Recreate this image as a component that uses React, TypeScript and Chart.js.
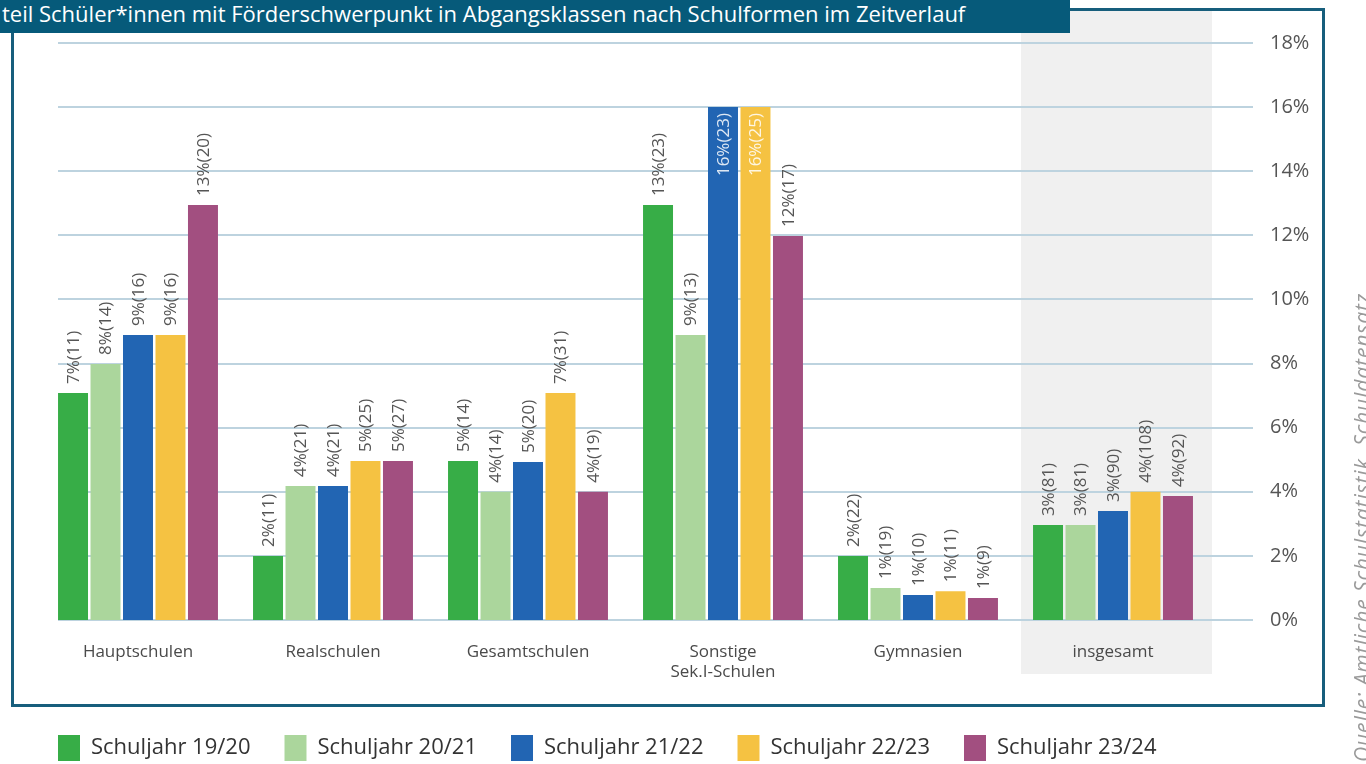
import React, { useEffect, useRef } from 'react';
import { Chart, registerables } from 'chart.js';

Chart.register(...registerables);

// ---------- data ----------
const categories: (string | string[])[] = [
  'Hauptschulen',
  'Realschulen',
  'Gesamtschulen',
  ['Sonstige', 'Sek.I-Schulen'],
  'Gymnasien',
  'insgesamt',
];

const seriesNames = ['Schuljahr 19/20', 'Schuljahr 20/21', 'Schuljahr 21/22', 'Schuljahr 22/23', 'Schuljahr 23/24'];
const seriesColors = ['#37ad47', '#abd69c', '#2265b3', '#f5c242', '#a24f80'];

// bar heights in percent
const sj1920 = [7.08, 2.0, 4.96, 12.95, 2.0, 2.96];
const sj2021 = [7.99, 4.18, 4.0, 8.89, 1.0, 2.96];
const sj2122 = [8.89, 4.18, 4.93, 16.0, 0.78, 3.4];
const sj2223 = [8.89, 4.96, 7.08, 16.0, 0.9, 4.0];
const sj2324 = [12.95, 4.96, 4.0, 11.98, 0.69, 3.87];

// printed percentages
const pct1920 = [7, 2, 5, 13, 2, 3];
const pct2021 = [8, 4, 4, 9, 1, 3];
const pct2122 = [9, 4, 5, 16, 1, 3];
const pct2223 = [9, 5, 7, 16, 1, 4];
const pct2324 = [13, 5, 4, 12, 1, 4];

// printed counts
const n1920 = [11, 11, 14, 23, 22, 81];
const n2021 = [14, 21, 14, 13, 19, 81];
const n2122 = [16, 21, 20, 23, 10, 90];
const n2223 = [16, 25, 31, 25, 11, 108];
const n2324 = [20, 27, 19, 17, 9, 92];

const yMin = 0;
const yMax = 18;
const yStep = 2;

const titleText = 'teil Schüler*innen mit Förderschwerpunkt in Abgangsklassen nach Schulformen im Zeitverlauf';
const sourceText = 'Quelle: Amtliche Schulstatistik, Schuldatensatz';

const seriesValues = [sj1920, sj2021, sj2122, sj2223, sj2324];
const seriesPct = [pct1920, pct2021, pct2122, pct2223, pct2324];
const seriesN = [n1920, n2021, n2122, n2223, n2324];

const FONT = "'Open Sans', 'Noto Sans', sans-serif";

const backgroundPlugin = {
  id: 'bgPlugin',
  beforeDraw(chart: any) {
    const { ctx, chartArea, scales } = chart;
    const xs = scales.x;
    const ys = scales.y;
    ctx.save();
    // grey band behind "insgesamt"
    const cx = xs.getPixelForValue(categories.length - 1);
    ctx.fillStyle = '#f0f0f0';
    ctx.fillRect(cx - 92, 11, 191, 663);
    // horizontal grid lines
    ctx.strokeStyle = '#bdd3df';
    ctx.lineWidth = 2;
    for (let v = yMin; v <= yMax; v += yStep) {
      const py = Math.round(ys.getPixelForValue(v));
      ctx.beginPath();
      ctx.moveTo(chartArea.left + 17.5, py);
      ctx.lineTo(chartArea.right + 42.5, py);
      ctx.stroke();
    }
    ctx.restore();
  },
};

const labelPlugin = {
  id: 'barLabels',
  afterDatasetsDraw(chart: any) {
    const { ctx, chartArea } = chart;
    ctx.save();
    ctx.font = `17px ${FONT}`;
    ctx.textBaseline = 'middle';
    chart.data.datasets.forEach((ds: any, i: number) => {
      const meta = chart.getDatasetMeta(i);
      meta.data.forEach((bar: any, j: number) => {
        const text = `${seriesPct[i][j]}%(${seriesN[i][j]})`;
        const w = ctx.measureText(text).width;
        const top = bar.y;
        ctx.save();
        if (top - 9 - w < chartArea.top + 10) {
          ctx.translate(bar.x, top + 6);
          ctx.rotate(-Math.PI / 2);
          ctx.textAlign = 'right';
          ctx.fillStyle = 'rgba(255,255,255,0.85)';
        } else {
          ctx.translate(bar.x, top - 9);
          ctx.rotate(-Math.PI / 2);
          ctx.textAlign = 'left';
          ctx.fillStyle = '#555555';
        }
        ctx.fillText(text, 0, 1);
        ctx.restore();
      });
    });
    ctx.restore();
  },
};

export default function App() {
  const canvasRef = useRef<HTMLCanvasElement | null>(null);

  useEffect(() => {
    if (!canvasRef.current) return;
    const chart = new Chart(canvasRef.current, {
      type: 'bar',
      data: {
        labels: categories as any,
        datasets: seriesNames.map((name, i) => ({
          label: name,
          data: seriesValues[i],
          backgroundColor: seriesColors[i],
          borderWidth: 0,
          categoryPercentage: 0.833,
          barPercentage: 0.923,
          yAxisID: 'y',
        })),
      },
      options: {
        responsive: false,
        maintainAspectRatio: false,
        animation: false,
        layout: { padding: { left: 24, right: 0, top: 43, bottom: 9 } },
        plugins: {
          tooltip: { enabled: false },
          title: { display: false },
          legend: {
            display: true,
            position: 'bottom',
            align: 'start',
            labels: {
              boxWidth: 22,
              boxHeight: 26,
              padding: 34,
              color: '#333333',
              font: { family: FONT, size: 22 },
            },
          },
        },
        scales: {
          x: {
            grid: { display: false, drawTicks: false },
            border: { display: false },
            ticks: {
              color: '#4a4a4a',
              font: { family: FONT, size: 17 },
              padding: 22,
              maxRotation: 0,
              autoSkip: false,
            },
            afterFit: (s: any) => {
              s.height = 81;
            },
          },
          yL: {
            type: 'linear',
            position: 'left',
            display: true,
            grid: { display: false, drawTicks: false },
            border: { display: false },
            ticks: { display: false },
            afterFit: (s: any) => {
              s.width = 16.5;
            },
          },
          y: {
            type: 'linear',
            position: 'right',
            min: yMin,
            max: yMax,
            grid: { display: false, drawTicks: true, tickLength: 57.5 },
            border: { display: false },
            ticks: {
              stepSize: yStep,
              padding: 2,
              color: '#555555',
              font: { family: FONT, size: 20 },
              callback: (v: any) => `${v}%`,
            },
            afterFit: (s: any) => {
              s.width = 155.5;
            },
          },
        },
      },
      plugins: [backgroundPlugin, labelPlugin],
    } as any);
    return () => chart.destroy();
  }, []);

  return (
    <div
      style={{
        position: 'absolute',
        left: 0,
        top: 0,
        width: 1366,
        height: 764,
        overflow: 'hidden',
        background: '#ffffff',
      }}
    >
      <canvas
        ref={canvasRef}
        width={1366}
        height={780}
        style={{ position: 'absolute', left: 0, top: 0, width: 1366, height: 780 }}
      />
      <div
        style={{
          position: 'absolute',
          left: 11,
          top: 8,
          width: 1314,
          height: 699,
          boxSizing: 'border-box',
          border: '3px solid #175e7c',
          pointerEvents: 'none',
        }}
      />
      <div
        style={{
          position: 'absolute',
          left: 0,
          top: 0,
          width: 1070,
          height: 33,
          background: '#065a7a',
          color: '#ffffff',
          fontFamily: FONT,
          fontSize: 22,
          lineHeight: '26px',
          whiteSpace: 'nowrap',
          overflow: 'hidden',
          paddingLeft: 2,
          boxSizing: 'border-box',
        }}
      >
        {titleText}
      </div>
      <div
        style={{
          position: 'absolute',
          left: 1350,
          bottom: 2,
          width: 24,
          lineHeight: '24px',
          writingMode: 'vertical-rl',
          transform: 'rotate(180deg)',
          fontFamily: FONT,
          fontStyle: 'italic',
          fontSize: 21,
          letterSpacing: '0.9px',
          color: '#9a9a9a',
          whiteSpace: 'nowrap',
        }}
      >
        {sourceText}
      </div>
    </div>
  );
}
